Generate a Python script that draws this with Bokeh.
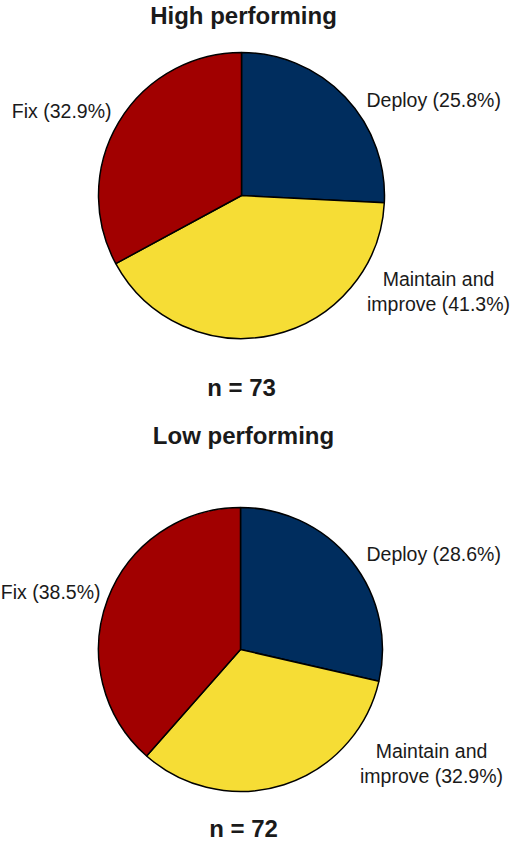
import math
from bokeh.plotting import figure
from bokeh.models import ColumnDataSource
from bokeh.core.properties import value
from bokeh.embed import file_html
from bokeh.resources import INLINE

# ---- data ----
categories = ["Deploy", "Maintain and improve", "Fix"]
high_shares = [25.8, 41.3, 32.9]
low_shares = [28.6, 32.9, 38.5]
group_titles = ["High performing", "Low performing"]
group_n = [73, 72]
colors = ["#002D5E", "#F6DD35", "#A10000"]

FONT = value("Liberation Sans")
W, H = 510, 844

p = figure(width=W, height=H, x_range=(0, W), y_range=(0, H),
           output_backend="svg", toolbar_location=None, min_border=0)
p.axis.visible = False
p.grid.visible = False
p.outline_line_color = None
p.background_fill_color = "white"
p.border_fill_color = "white"

# layout per pie (positions only)
layouts = [
    dict(cx=241, cy=649, r=143, title=(243, 829), n=(241, 457),
         deploy=(366, 745), fix=(111, 734), maint_x=438, maint_y=(566, 541)),
    dict(cx=240, cy=195, r=142, title=(243, 409), n=(243, 16),
         deploy=(366, 291), fix=(100, 253), maint_x=431, maint_y=(94, 69)),
]

TXT = "#1a1a1a"
LBL = "19.5px"

for shares, title, n, L in zip([high_shares, low_shares], group_titles, group_n, layouts):
    total = sum(shares)
    starts, ends = [], []
    cum = 0.0
    for s in shares:
        starts.append(math.pi / 2 - 2 * math.pi * cum / total)
        cum += s
        ends.append(math.pi / 2 - 2 * math.pi * cum / total)
    src = ColumnDataSource(dict(x=[L["cx"]] * 3, y=[L["cy"]] * 3, start=starts, end=ends, color=colors))
    p.wedge(x="x", y="y", radius=L["r"], start_angle="start", end_angle="end",
            direction="clock", fill_color="color", line_color="black", line_width=1.5, source=src)

    # title & n
    p.text(x=[L["title"][0]], y=[L["title"][1]], text=[title], text_font=FONT, text_font_style="bold",
           text_font_size="24px", text_align="center", text_baseline="middle", text_color=TXT)
    p.text(x=[L["n"][0]], y=[L["n"][1]], text=[f"n = {n}"], text_font=FONT, text_font_style="bold",
           text_font_size="24px", text_align="center", text_baseline="middle", text_color=TXT)

    # slice labels
    p.text(x=[L["deploy"][0]], y=[L["deploy"][1]], text=[f"{categories[0]} ({shares[0]:.1f}%)"],
           text_font=FONT, text_font_size=LBL, text_align="left", text_baseline="middle",
           text_color=TXT)
    p.text(x=[L["fix"][0]], y=[L["fix"][1]], text=[f"{categories[2]} ({shares[2]:.1f}%)"],
           text_font=FONT, text_font_size=LBL, text_align="right", text_baseline="middle",
           text_color=TXT)
    words = categories[1].split(" ")
    line1 = " ".join(words[:2])
    line2 = " ".join(words[2:]) + f" ({shares[1]:.1f}%)"
    p.text(x=[L["maint_x"], L["maint_x"]], y=list(L["maint_y"]), text=[line1, line2],
           text_font=FONT, text_font_size=LBL, text_align="center", text_baseline="middle",
           text_color=TXT)

open("out.html", "w").write(file_html(p, INLINE))
